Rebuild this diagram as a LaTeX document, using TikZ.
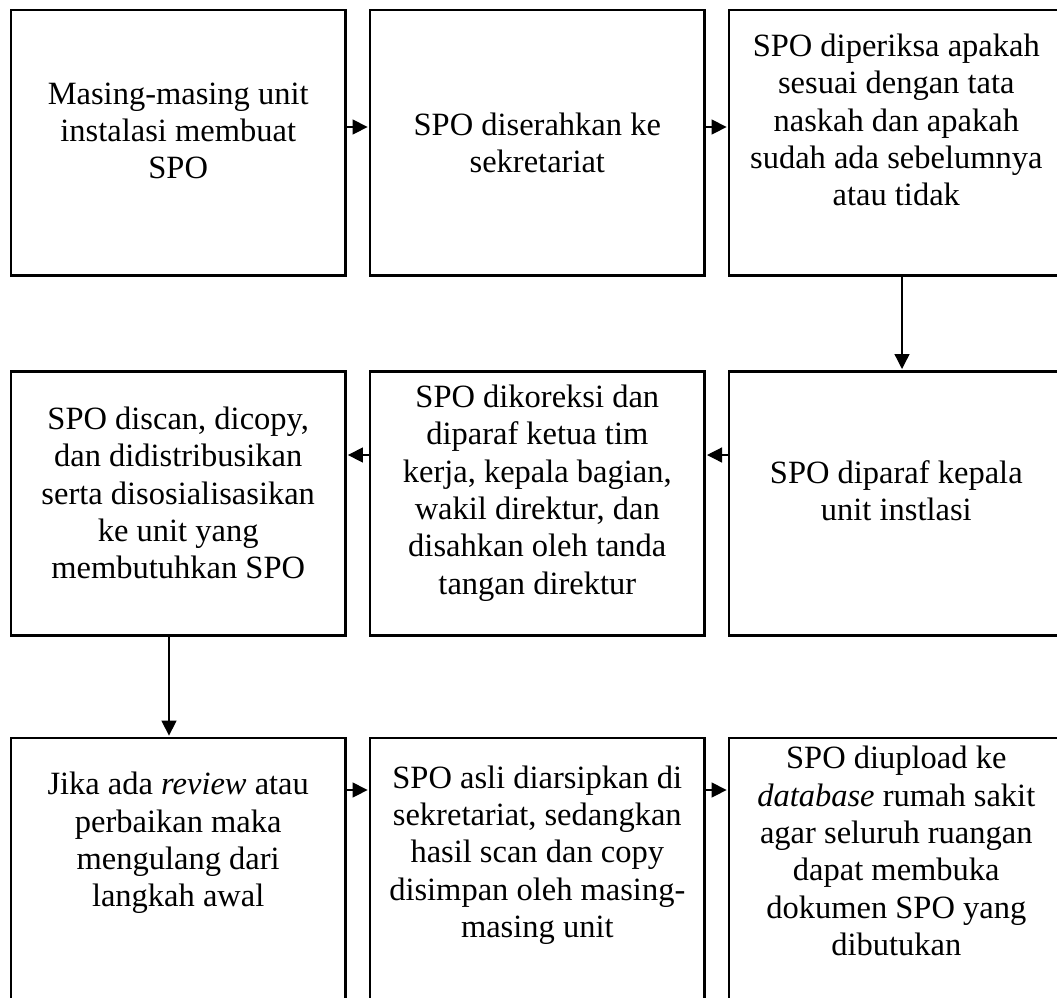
\documentclass[tikz,border=0pt]{standalone}
\usepackage{fontspec}
\setmainfont{Liberation Serif}
\usetikzlibrary{arrows.meta}
\begin{document}
\begin{tikzpicture}[x=1pt,y=-1pt,
  stepbox/.style={draw, line width=2.6pt, rectangle, minimum width=334.4pt,
    inner sep=0pt, anchor=north west},
  steptext/.style={align=center, inner sep=0pt,
    font=\fontsize{32.5}{37.3}\selectfont},
  arr/.style={line width=1.3pt, shorten >=1.2pt,
    -{Triangle[length=15pt,width=15pt]}}]
\useasboundingbox (0,0) rectangle (1057,997);
\clip (0,0) rectangle (1057,997);

% boxes, three rows of three
\node[stepbox, minimum height=265.5pt] (b1) at (9.7,8.5) {};
\node[stepbox, minimum height=265.5pt] (b2) at (368.8,8.5) {};
\node[stepbox, minimum height=265.5pt] (b3) at (727.8,8.5) {};
\node[stepbox, minimum height=264.2pt] (b4) at (9.7,370.2) {};
\node[stepbox, minimum height=264.2pt] (b5) at (368.8,370.2) {};
\node[stepbox, minimum height=264.2pt] (b6) at (727.8,370.2) {};
\node[stepbox, minimum height=265pt] (b7) at (9.7,736.8) {};
\node[stepbox, minimum height=265pt] (b8) at (368.8,736.8) {};
\node[stepbox, minimum height=265pt] (b9) at (727.8,736.8) {};

% texts
\node[steptext] (t1) at (b1.center |- 0,131) {Masing-masing unit\\instalasi membuat\\SPO};
\node[steptext] (t2) at (b2.center |- 0,143) {SPO diserahkan ke\\sekretariat};
\node[steptext] (t3) at (b3.center |- 0,120) {SPO diperiksa apakah\\sesuai dengan tata\\naskah dan apakah\\sudah ada sebelumnya\\atau tidak};
\node[steptext] (t4) at (b4.center |- 0,493) {SPO discan, dicopy,\\dan didistribusikan\\serta disosialisasikan\\ke unit yang\\membutuhkan SPO};
\node[steptext] (t5) at (b5.center |- 0,493) {SPO dikoreksi dan\\diparaf ketua tim\\kerja, kepala bagian,\\wakil direktur, dan\\disahkan oleh tanda\\tangan direktur};
\node[steptext] (t6) at (b6.center |- 0,491) {SPO diparaf kepala\\unit instlasi};
\node[steptext] (t7) at (b7.center |- 0,843) {Jika ada \textit{review} atau\\perbaikan maka\\mengulang dari\\langkah awal};
\node[steptext] (t8) at (b8.center |- 0,855) {SPO asli diarsipkan di\\sekretariat, sedangkan\\hasil scan dan copy\\disimpan oleh masing-\\masing unit};
\node[steptext] (t9) at (b9.center |- 0,851) {SPO diupload ke\\\textit{database} rumah sakit\\agar seluruh ruangan\\dapat membuka\\dokumen SPO yang\\dibutukan};

% flow
\draw[arr] (b1.east |- 0,127) -- (b2.west |- 0,127);
\draw[arr] (b2.east |- 0,127) -- (b3.west |- 0,127);
\draw[arr] (b3.south -| 902,0) -- (b6.north -| 902,0);
\draw[arr] (b6.west |- 0,455) -- (b5.east |- 0,455);
\draw[arr] (b5.west |- 0,455) -- (b4.east |- 0,455);
\draw[arr] (b4.south -| 169,0) -- (b7.north -| 169,0);
\draw[arr] (b7.east |- 0,790) -- (b8.west |- 0,790);
\draw[arr] (b8.east |- 0,790) -- (b9.west |- 0,790);
\end{tikzpicture}
\end{document}
